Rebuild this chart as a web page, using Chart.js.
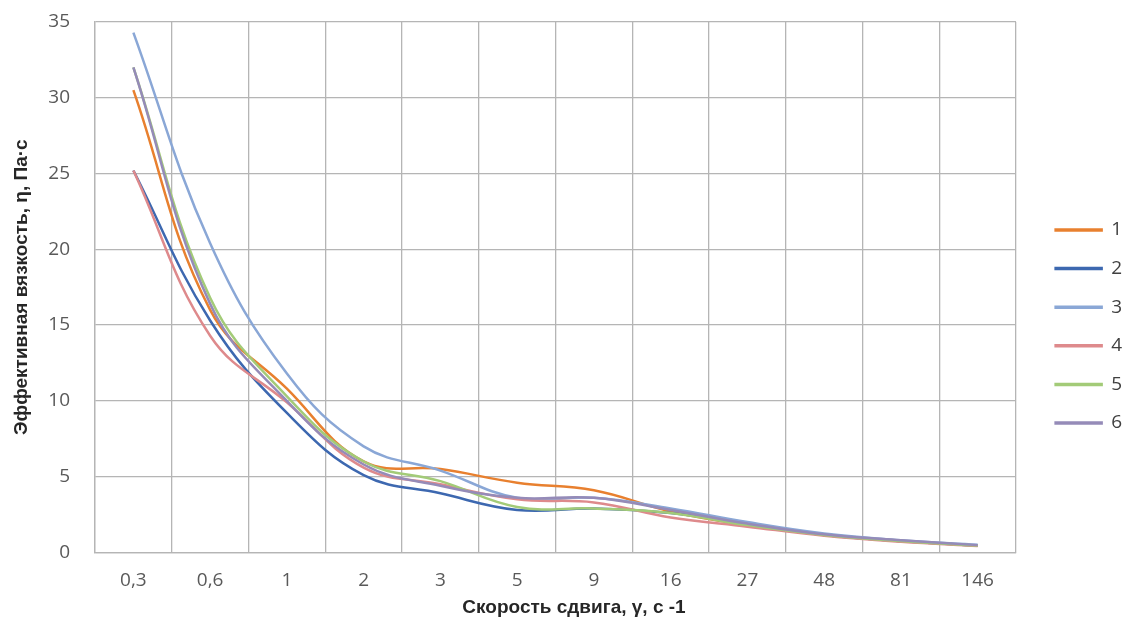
<!DOCTYPE html>
<html>
<head>
<meta charset="utf-8">
<script src="https://cdn.jsdelivr.net/npm/chart.js@4/dist/chart.umd.min.js"></script>
<style>
  html, body { margin: 0; padding: 0; background: #fff; }
  #wrap { width: 1126px; height: 622px; position: relative; }
</style>
</head>
<body>
<div id="wrap"><canvas id="chart"></canvas></div>
<script>
// shear rate categories (as printed on the axis)
const shearRates = ['0,3', '0,6', '1', '2', '3', '5', '9', '16', '27', '48', '81', '146'];

// effective viscosity, Pa·s
const series1 = [30.5, 16.0, 10.8, 6.0, 5.5, 4.6, 4.1, 2.7, 1.8, 1.15, 0.75, 0.45];
const series2 = [25.2, 15.3, 9.2, 5.1, 3.9, 2.8, 2.9, 2.6, 1.9, 1.15, 0.75, 0.45];
const series3 = [34.3, 20.4, 11.8, 7.0, 5.4, 3.6, 3.6, 2.9, 2.0, 1.25, 0.8, 0.5];
const series4 = [25.2, 14.3, 9.9, 5.6, 4.5, 3.5, 3.3, 2.3, 1.7, 1.1, 0.7, 0.42];
const series5 = [32.0, 16.8, 10.3, 6.0, 4.7, 3.0, 2.9, 2.6, 1.8, 1.15, 0.75, 0.45];
const series6 = [32.0, 16.4, 10.0, 5.8, 4.4, 3.6, 3.6, 2.8, 1.9, 1.2, 0.8, 0.48];

const seriesNames = ['1', '2', '3', '4', '5', '6'];
const seriesColors = ['#E8802F', '#3D68B0', '#8AA7D6', '#DE8A8C', '#A3CB78', '#958BB8'];
const allSeries = [series1, series2, series3, series4, series5, series6];

const tickFont = { family: '"Open Sans", sans-serif', size: 19 };
const titleFamily = '"Liberation Sans", Arial, sans-serif';
const gridColor = '#b5b5b5';

// nudge the legend to the right, as in the original
const legendShift = {
    id: 'legendShift',
    afterLayout(chart) {
        chart.legend.left += 20;
        chart.legend.right += 20;
        chart.legend.top += 5;
        chart.legend.bottom += 5;
    }
};

const ctx = document.getElementById('chart').getContext('2d');

new Chart(ctx, {
    type: 'line',
    data: {
        labels: shearRates,
        datasets: allSeries.map((values, i) => ({
            label: seriesNames[i],
            data: values,
            borderColor: seriesColors[i],
            backgroundColor: seriesColors[i],
            borderWidth: 2.5,
            pointRadius: 0,
            tension: 0.4,
            order: 6 - i // later series drawn on top
        }))
    },
    options: {
        responsive: true,
        maintainAspectRatio: false,
        animation: false,
        layout: {
            padding: { top: 22, right: 14, bottom: 1, left: 0 }
        },
        plugins: {
            legend: {
                position: 'right',
                labels: {
                    font: tickFont,
                    color: '#404040',
                    boxWidth: 46,
                    boxHeight: 1,
                    padding: 19.6,
                    sort: (a, b) => a.datasetIndex - b.datasetIndex
                }
            },
            tooltip: { enabled: false }
        },
        scales: {
            x: {
                offset: true,
                grid: {
                    offset: true,
                    color: gridColor,
                    lineWidth: 1.3,
                    drawTicks: false
                },
                border: { color: gridColor, width: 1.3 },
                ticks: {
                    font: tickFont,
                    color: '#595959',
                    padding: 17,
                    maxRotation: 0,
                    autoSkip: false
                },
                title: {
                    display: true,
                    text: '\u00A0\u00A0\u00A0\u00A0\u00A0\u00A0\u00A0Скорость сдвига, γ, с -1',
                    font: { family: titleFamily, size: 19, weight: 'bold' },
                    color: '#262626',
                    padding: { top: -13, bottom: 2 }
                }
            },
            y: {
                min: 0,
                max: 35,
                afterFit(scale) {
                    scale.width = 95;
                },
                grid: {
                    color: gridColor,
                    lineWidth: 1.3,
                    tickLength: 22,
                    tickColor: 'rgba(0,0,0,0)'
                },
                border: { color: gridColor, width: 1.3 },
                ticks: {
                    stepSize: 5,
                    font: tickFont,
                    color: '#595959',
                    padding: 3
                },
                title: {
                    display: true,
                    text: 'Эффективная вязкость, η, Па·с',
                    font: { family: titleFamily, size: 19, weight: 'bold' },
                    color: '#262626',
                    padding: { top: 10, bottom: 0 }
                }
            }
        }
    },
    plugins: [legendShift]
});
</script>
</body>
</html>
